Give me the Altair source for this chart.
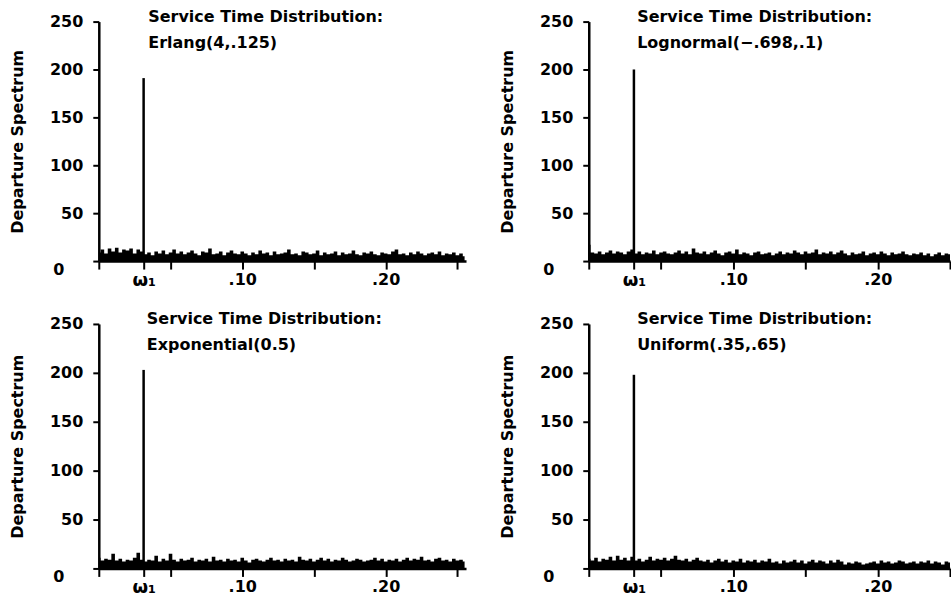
import altair as alt
import numpy as np
import pandas as pd

W1 = 0.03125  # omega_1
STEP = 0.0025

titles = [
    ["Service Time Distribution:", "Erlang(4,.125)"],
    ["Service Time Distribution:", "Lognormal(\u2212.698,.1)"],
    ["Service Time Distribution:", "Exponential(0.5)"],
    ["Service Time Distribution:", "Uniform(.35,.65)"],
]
peaks = [191, 200, 203, 198]

erlang = [9, 12, 8, 13, 10, 14, 9, 12, 11, 13, 8, 12, 10,
          7, 9, 6, 10, 8, 11, 7, 9, 12, 8, 10, 7, 9,
          11, 8, 6, 10, 9, 13, 7, 8, 10, 6, 9, 11, 8,
          7, 10, 8, 6, 9, 7, 11, 8, 9, 6, 10, 7, 8,
          9, 12, 7, 8, 6, 10, 9, 7, 8, 11, 6, 9, 7,
          8, 10, 6, 9, 7, 8, 11, 7, 6, 9, 8, 10, 7,
          6, 9, 8, 7, 10, 12, 7, 8, 6, 9, 7, 10, 8,
          6, 8, 9, 7, 10, 6, 8, 7, 9, 6, 8, 5]
lognormal = [17, 9, 8, 10, 7, 9, 11, 8, 10, 9, 7, 10, 12,
             8, 10, 7, 9, 8, 11, 7, 9, 10, 8, 7, 9, 11,
             8, 10, 7, 13, 9, 8, 10, 7, 9, 11, 8, 6, 9,
             10, 8, 12, 7, 9, 8, 6, 9, 10, 7, 8, 9, 6,
             8, 10, 7, 9, 8, 11, 9, 7, 10, 8, 9, 12, 7,
             9, 8, 10, 7, 9, 11, 8, 6, 9, 7, 8, 10, 6,
             8, 9, 7, 10, 8, 6, 9, 7, 8, 10, 7, 6, 8,
             7, 9, 6, 8, 5, 7, 9, 6, 8, 7]
exponential = [11, 8, 10, 9, 15, 8, 10, 7, 9, 8, 11, 16, 9,
               7, 9, 8, 13, 7, 10, 8, 15, 9, 7, 10, 8, 9,
               11, 7, 9, 8, 10, 7, 12, 8, 9, 7, 10, 8, 9,
               7, 11, 8, 6, 9, 10, 8, 7, 9, 11, 8, 9, 7,
               10, 8, 9, 7, 12, 9, 8, 10, 7, 9, 11, 8, 10,
               7, 9, 8, 11, 9, 7, 8, 10, 9, 7, 8, 9, 11,
               8, 10, 7, 9, 8, 10, 7, 9, 11, 8, 10, 9, 12,
               8, 9, 7, 10, 11, 8, 9, 7, 10, 8, 9, 7]
uniform = [10, 8, 11, 7, 10, 9, 12, 8, 13, 9, 11, 8, 12,
           8, 10, 7, 9, 12, 8, 10, 9, 11, 8, 10, 13, 9,
           8, 10, 7, 9, 11, 8, 7, 9, 6, 8, 10, 7, 9,
           6, 8, 7, 10, 6, 8, 7, 9, 6, 8, 7, 10, 6,
           7, 5, 8, 6, 7, 9, 6, 8, 5, 7, 9, 6, 8,
           7, 5, 8, 6, 9, 7, 4, 6, 5, 7, 6, 4, 5,
           6, 7, 5, 8, 6, 7, 5, 6, 8, 7, 5, 6, 7,
           5, 7, 6, 8, 5, 7, 6, 4, 7, 6]
series = [erlang, lognormal, exponential, uniform]

x_ticks = [0, W1, 0.05, 0.10, 0.15, 0.20, 0.25]
y_ticks = [0, 50, 100, 150, 200, 250]

FONT = "DejaVu Sans"


def panel(i, width, height, xmax, tx):
    vals = series[i]
    freq = np.round(np.arange(len(vals)) * STEP, 5)
    df = pd.DataFrame({"f": freq, "s": vals})
    xs = alt.Scale(domain=[0, xmax], nice=False, zero=False)
    ys = alt.Scale(domain=[0, 250], nice=False)
    xax = alt.Axis(values=x_ticks, title=None,
                   labelExpr="datum.value > 0.03 && datum.value < 0.033 ? '\u03c9\u2081' : "
                             "(abs(datum.value - 0.1) < 0.001 ? '.10' : "
                             "(abs(datum.value - 0.2) < 0.001 ? '.20' : ''))",
                   labelFontSize={"condition": {"test": "datum.value > 0.03 && datum.value < 0.033",
                                                "value": 18}, "value": 16},
                   tickSize=8, labelPadding=2, labelFlush=False, labelOverlap=False)
    yax = alt.Axis(values=y_ticks, title="Departure Spectrum", tickSize=6,
                   labelPadding={"condition": {"test": "datum.value === 0", "value": 29},
                                 "value": 10},
                   labelOffset={"condition": {"test": "datum.value === 0", "value": 8},
                                "value": 0},
                   titlePadding=24)
    area = alt.Chart(df).mark_area(color="black", clip=True, interpolate="step").encode(
        x=alt.X("f:Q", scale=xs, axis=xax),
        y=alt.Y("s:Q", scale=ys, axis=yax),
    )
    spike = alt.Chart(pd.DataFrame({"f": [W1], "s": [peaks[i]]})).mark_rule(
        color="black", strokeWidth=2.5).encode(
        x="f:Q", y="s:Q", y2=alt.datum(0))
    text = alt.Chart(pd.DataFrame({"f": [tx], "s": [263]})).mark_text(
        align="left", baseline="top", font=FONT, fontWeight="bold",
        fontSize=16, lineHeight=26, color="black").encode(
        x="f:Q", y="s:Q", text=alt.value(titles[i]))
    return alt.layer(area, spike, text).properties(width=width, height=height)


top = alt.hconcat(panel(0, 368, 240, 0.256, 0.0345), panel(1, 362, 240, 0.25, 0.0335), spacing=33)
bot = alt.hconcat(panel(2, 368, 245, 0.256, 0.0335), panel(3, 362, 245, 0.25, 0.0335), spacing=33)
chart = alt.vconcat(top, bot, spacing=22).configure_view(stroke=None).configure_axis(
    grid=False, domainColor="black", domainWidth=2.5, tickColor="black",
    tickWidth=2, labelFont=FONT, labelFontSize=16, labelFontWeight="bold",
    labelColor="black", titleFont=FONT, titleFontSize=16, titleFontWeight="bold",
    titleColor="black",
).properties(padding={"left": 9, "top": 8, "right": 0, "bottom": 0})

chart.save("out.html", embed_options={"renderer": "svg", "actions": False})
